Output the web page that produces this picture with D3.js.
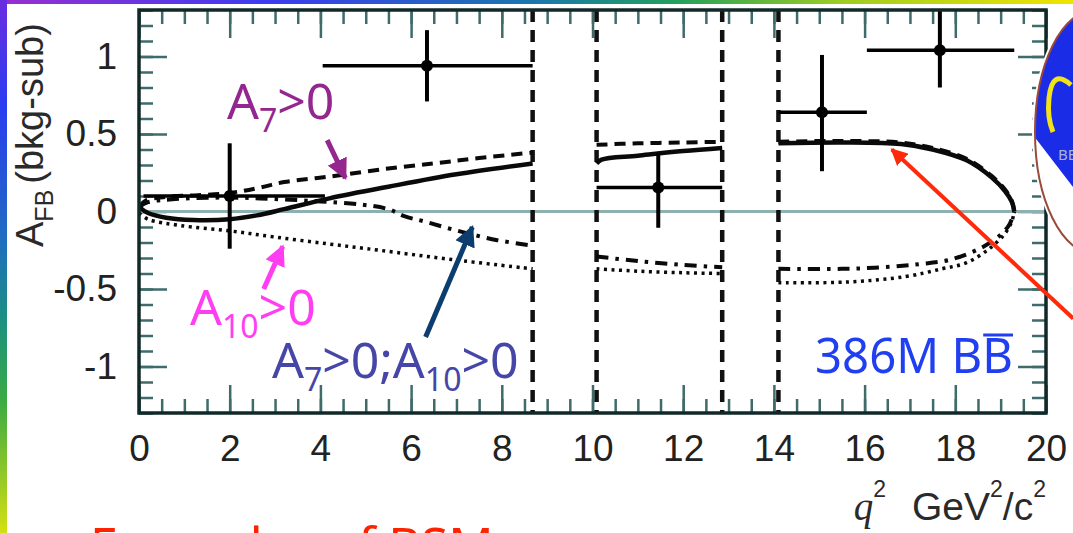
<!DOCTYPE html>
<html><head><meta charset="utf-8">
<script src="https://cdn.jsdelivr.net/npm/d3@7"></script>
<style>
html,body{margin:0;padding:0;background:#fff;overflow:hidden}
svg{display:block}
</style></head><body>
<svg id="chart" width="1073" height="533"></svg>
<script>
// ---- axis ticks ----
const xMajorTicks = [0, 2, 4, 6, 8, 10, 12, 14, 16, 18, 20];
const yMajorTicks = [-1, -0.5, 0, 0.5, 1];
const xMinorTicks = d3.range(0, 41).map(i => i / 2);
const yMinorTicks = d3.range(-13, 14).map(i => i / 10);

// ---- measured A_FB (background subtracted) per q² bin ----
const binLow  = [0.1, 4.05, 10.09, 14.1, 16.05];
const binHigh = [4.1, 8.68, 12.86, 16.05, 19.3];
const binQ2   = [2.0, 6.35, 11.45, 15.06, 17.66];
const binAfb  = [0.10, 0.94, 0.155, 0.64, 1.04];
const errUp   = [0.34, 0.23, 0.225, 0.37, 0.30];
const errDown = [0.34, 0.23, 0.26, 0.38, 0.24];

// ---- charmonium veto window edges ----
const vetoEdges = [8.68, 10.09, 12.86, 14.1];

// ---- predictions [q², A_FB], one array per allowed window ----
const smCurve = [
  [[0,0.03],[0.2,-0.01],[0.6,-0.04],[1.2,-0.055],[2,-0.05],[2.6,-0.025],[3.2,0.015],[4.2,0.085],[5.5,0.16],[7,0.24],[8.68,0.31]],
  [[10.09,0.31],[10.2,0.335],[11,0.36],[12,0.39],[12.86,0.41]],
  [[14.1,0.44],[15.5,0.445],[16.8,0.435],[17.5,0.40],[18.25,0.33],[18.8,0.22],[19.1,0.13],[19.25,0.06],[19.3,0]]
];
const a7Curve = [
  [[0,0.03],[0.15,0.07],[0.6,0.095],[1.3,0.105],[2,0.12],[2.6,0.15],[3.2,0.19],[4.2,0.225],[5.3,0.27],[6.5,0.31],[7.5,0.345],[8.68,0.38]],
  [[10.09,0.43],[11,0.44],[12,0.445],[12.86,0.45]],
  [[14.1,0.45],[15.5,0.455],[16.8,0.445],[17.5,0.41],[18.25,0.34],[18.8,0.23],[19.1,0.14],[19.25,0.065],[19.3,0]]
];
const a10Curve = [
  [[0,-0.01],[0.2,-0.05],[0.9,-0.09],[2,-0.125],[3,-0.165],[4.2,-0.21],[5.3,-0.25],[6.9,-0.31],[8.68,-0.37]],
  [[10.09,-0.37],[11,-0.385],[12,-0.395],[12.86,-0.40]],
  [[14.1,-0.46],[15.6,-0.455],[16.9,-0.42],[17.7,-0.37],[18.25,-0.33],[18.75,-0.24],[19.1,-0.14],[19.25,-0.06],[19.3,0]]
];
const a7a10Curve = [
  [[0,0.03],[0.2,0.06],[0.8,0.08],[2,0.09],[3,0.08],[4,0.065],[4.9,0.045],[5.5,0.015],[5.85,-0.03],[6.3,-0.065],[7.1,-0.13],[7.9,-0.185],[8.68,-0.22]],
  [[10.09,-0.29],[11,-0.32],[12,-0.345],[12.86,-0.36]],
  [[14.1,-0.37],[15.5,-0.37],[16.4,-0.36],[17.2,-0.34],[17.9,-0.31],[18.6,-0.23],[19.0,-0.15],[19.2,-0.08],[19.3,0]]
];

const svg = d3.select("#chart");
const W = 1073, H = 533;
const plot = {left: 139, right: 1046, top: 10, bottom: 413};

const x = d3.scaleLinear().domain([0, 20]).range([plot.left, plot.right]);
const y = d3.scaleLinear().domain([-1.3, 1.3]).range([plot.bottom, plot.top]);

const defs = svg.append("defs");
defs.append("clipPath").attr("id", "plotClip")
  .append("rect").attr("x", plot.left).attr("y", plot.top)
  .attr("width", plot.right - plot.left).attr("height", plot.bottom - plot.top);

// slide frame gradients
const gTop = defs.append("linearGradient").attr("id", "topGrad").attr("x1", "0").attr("x2", "1").attr("y1", "0").attr("y2", "0");
[[0,"#9a2ed0"],[0.25,"#3c3cf0"],[0.5,"#1a78ac"],[0.63,"#22a05c"],[0.78,"#9ccc22"],[1,"#f0e400"]]
  .forEach(([o,c]) => gTop.append("stop").attr("offset", o).attr("stop-color", c));
const gLeft = defs.append("linearGradient").attr("id", "leftGrad").attr("x1", "0").attr("x2", "0").attr("y1", "0").attr("y2", "1");
[[0,"#6a2ee0"],[0.2,"#2a3cf0"],[0.45,"#1f6ec0"],[0.6,"#1a9080"],[0.75,"#3aaa44"],[1,"#d4e010"]]
  .forEach(([o,c]) => gLeft.append("stop").attr("offset", o).attr("stop-color", c));

svg.append("rect").attr("width", W).attr("height", H).attr("fill", "#fff");

// ---- axes and ticks (all inward) ----
const tickColor = "#3f6b6b";
function styleAxis(g) {
  g.select(".domain").remove();
  g.selectAll(".tick line").attr("stroke", tickColor).attr("stroke-width", 2.5);
  g.selectAll(".tick text").attr("fill", "#222")
    .style("font-family", "'Liberation Sans', Arial, sans-serif").style("font-size", "37px");
}
const fmt = d => String(d);

svg.append("g").attr("transform", `translate(0,${plot.bottom})`)
  .call(d3.axisBottom(x).tickValues(xMinorTicks).tickSize(-14).tickFormat("")).call(styleAxis);
svg.append("g").attr("transform", `translate(0,${plot.bottom})`)
  .call(d3.axisBottom(x).tickValues(xMajorTicks).tickSize(-28).tickPadding(22).tickFormat(fmt)).call(styleAxis);
svg.append("g").attr("transform", `translate(0,${plot.top})`)
  .call(d3.axisTop(x).tickValues(xMinorTicks).tickSize(-14).tickFormat("")).call(styleAxis);
svg.append("g").attr("transform", `translate(0,${plot.top})`)
  .call(d3.axisTop(x).tickValues(xMajorTicks).tickSize(-28).tickFormat("")).call(styleAxis);
svg.append("g").attr("transform", `translate(${plot.left},0)`)
  .call(d3.axisLeft(y).tickValues(yMinorTicks).tickSize(-14).tickFormat("")).call(styleAxis);
svg.append("g").attr("transform", `translate(${plot.left},0)`)
  .call(d3.axisLeft(y).tickValues(yMajorTicks).tickSize(-28).tickPadding(22).tickFormat(fmt)).call(styleAxis);
svg.append("g").attr("transform", `translate(${plot.right},0)`)
  .call(d3.axisRight(y).tickValues(yMinorTicks).tickSize(-14).tickFormat("")).call(styleAxis);
svg.append("g").attr("transform", `translate(${plot.right},0)`)
  .call(d3.axisRight(y).tickValues(yMajorTicks).tickSize(-28).tickFormat("")).call(styleAxis);

// zero line
svg.append("line")
  .attr("x1", x(0)).attr("x2", x(20)).attr("y1", y(0)).attr("y2", y(0))
  .attr("stroke", "#8fb0b0").attr("stroke-width", 3);

const dataLayer = svg.append("g").attr("clip-path", "url(#plotClip)");

// veto boundaries
dataLayer.selectAll("line.veto").data(vetoEdges).join("line").attr("class", "veto")
  .attr("x1", d => x(d)).attr("x2", d => x(d))
  .attr("y1", plot.top).attr("y2", plot.bottom)
  .attr("stroke", "#111").attr("stroke-width", 4.5).attr("stroke-dasharray", "12,8");

// prediction curves
const line = d3.line().x(d => x(d[0])).y(d => y(d[1])).curve(d3.curveCatmullRom.alpha(0.5));
const models = [
  {cls: "a10",   curve: a10Curve,   width: 3.5, dash: "3,4.5"},
  {cls: "a7a10", curve: a7a10Curve, width: 4,   dash: "12,7,3.5,7"},
  {cls: "a7",    curve: a7Curve,    width: 4,   dash: "11,7"},
  {cls: "sm",    curve: smCurve,    width: 4.5, dash: null}
];
models.forEach(m => {
  dataLayer.selectAll("path." + m.cls).data(m.curve).join("path").attr("class", m.cls)
    .attr("d", line).attr("fill", "none").attr("stroke", "#0a0a0a")
    .attr("stroke-width", m.width).attr("stroke-dasharray", m.dash);
});

// data points with error bars
const idx = d3.range(binQ2.length);
dataLayer.selectAll("line.xerr").data(idx).join("line").attr("class", "xerr")
  .attr("x1", i => x(binLow[i])).attr("x2", i => x(binHigh[i]))
  .attr("y1", i => y(binAfb[i])).attr("y2", i => y(binAfb[i]))
  .attr("stroke", "#000").attr("stroke-width", 3.5);
dataLayer.selectAll("line.yerr").data(idx).join("line").attr("class", "yerr")
  .attr("x1", i => x(binQ2[i])).attr("x2", i => x(binQ2[i]))
  .attr("y1", i => y(binAfb[i] + errUp[i])).attr("y2", i => y(binAfb[i] - errDown[i]))
  .attr("stroke", "#000").attr("stroke-width", 4);
dataLayer.selectAll("circle.pt").data(idx).join("circle").attr("class", "pt")
  .attr("cx", i => x(binQ2[i])).attr("cy", i => y(binAfb[i])).attr("r", 6).attr("fill", "#000");

// frame
svg.append("rect")
  .attr("x", plot.left).attr("y", plot.top)
  .attr("width", plot.right - plot.left).attr("height", plot.bottom - plot.top)
  .attr("fill", "none").attr("stroke", "#102828").attr("stroke-width", 3.5);

// axis titles
const yTitle = svg.append("text")
  .attr("transform", "translate(43,247) rotate(-90)")
  .attr("fill", "#2a2a2a")
  .style("font-family", "'Liberation Sans', Arial, sans-serif").style("font-size", "38px");
yTitle.append("tspan").text("A");
yTitle.append("tspan").attr("dy", 10).style("font-size", "25px").text("FB");
yTitle.append("tspan").attr("dy", -10).attr("dx", 6).text("(bkg-sub)");

const xTitle = svg.append("text")
  .attr("x", 1046).attr("y", 520).attr("text-anchor", "end")
  .attr("fill", "#2a2a2a")
  .style("font-family", "'Liberation Sans', Arial, sans-serif").style("font-size", "39px");
xTitle.append("tspan").style("font-family", "'Liberation Serif', serif").style("font-style", "italic").text("q");
xTitle.append("tspan").attr("dy", -23).style("font-size", "23px").text("2");
xTitle.append("tspan").attr("dy", 23).attr("dx", 26).text("GeV");
xTitle.append("tspan").attr("dy", -23).style("font-size", "23px").text("2");
xTitle.append("tspan").attr("dy", 23).text("/c");
xTitle.append("tspan").attr("dy", -23).style("font-size", "23px").text("2");

// ---- annotations ----
const annFont = "'Noto Sans', 'DejaVu Sans', sans-serif";
function arrow(id, color, tail, tip, width) {
  defs.append("marker").attr("id", id).attr("viewBox", "0 0 10 10")
    .attr("refX", 9).attr("refY", 5).attr("markerWidth", 4.2).attr("markerHeight", 4.2)
    .attr("markerUnits", "strokeWidth").attr("orient", "auto")
    .append("path").attr("d", "M0,0 L10,5 L0,10 Z").attr("fill", color);
  svg.append("line")
    .attr("x1", x(tail[0])).attr("y1", y(tail[1]))
    .attr("x2", x(tip[0])).attr("y2", y(tip[1]))
    .attr("stroke", color).attr("stroke-width", width)
    .attr("marker-end", `url(#${id})`);
}
function label(px, py, color, parts) {
  const t = svg.append("text").attr("x", px).attr("y", py).attr("fill", color)
    .style("font-family", annFont).style("font-size", "50px");
  parts.forEach(p => {
    const s = t.append("tspan").text(p.t);
    if (p.sub) s.attr("dy", 13).style("font-size", "32px");
    if (p.back) s.attr("dy", -13);
  });
  return t;
}

label(227, 119, "#93278f", [{t: "A"}, {t: "7", sub: true}, {t: ">0", back: true}]);
arrow("arrPurple", "#93278f", [4.15, 0.46], [4.55, 0.215], 5);

label(190, 325, "#ff3ef2", [{t: "A"}, {t: "10", sub: true}, {t: ">0", back: true}]);
arrow("arrMagenta", "#ff3ef2", [2.75, -0.50], [3.17, -0.225], 5);

label(272, 378, "#4646a8", [{t: "A"}, {t: "7", sub: true}, {t: ">0;A", back: true}, {t: "10", sub: true}, {t: ">0", back: true}]);
arrow("arrNavy", "#0b3d6e", [6.32, -0.81], [7.35, -0.10], 5);

const lumi = svg.append("text").attr("x", 815).attr("y", 373).attr("fill", "#1f3ff0")
  .attr("textLength", 198).attr("lengthAdjust", "spacingAndGlyphs")
  .style("font-family", annFont).style("font-size", "50px").text("386M BB");
const lastB = lumi.node().getExtentOfChar(6);
svg.append("line").attr("x1", lastB.x + 1).attr("x2", lastB.x + lastB.width)
  .attr("y1", 335).attr("y2", 335).attr("stroke", "#1f3ff0").attr("stroke-width", 3);

// red pointer to the SM curve at high q²
arrow("arrRed", "#ff2a0a", [20.6, -0.69], [16.6, 0.40], 4);

// experiment logo at the right edge
const logo = svg.append("g");
defs.append("clipPath").attr("id", "logoClip")
  .append("ellipse").attr("cx", 1095).attr("cy", 132).attr("rx", 60).attr("ry", 122);
logo.append("ellipse").attr("cx", 1095).attr("cy", 132).attr("rx", 63).attr("ry", 125)
  .attr("fill", "#fff");
const logoIn = logo.append("g").attr("clip-path", "url(#logoClip)");
logoIn.append("polygon").attr("points", "1030,0 1080,0 1080,196 1030,131").attr("fill", "#1a2ce6");
logoIn.append("path").attr("d", "M1071,85 Q1052,68 1049,98 Q1047,118 1053,132")
  .attr("fill", "none").attr("stroke", "#f2e21a").attr("stroke-width", 5);
logoIn.append("text").attr("x", 1058).attr("y", 160).attr("fill", "#aab4cc")
  .style("font-family", annFont).style("font-size", "15px").text("BELLE");
logo.append("ellipse").attr("cx", 1095).attr("cy", 132).attr("rx", 60).attr("ry", 122)
  .attr("fill", "none").attr("stroke", "#9a4a3a").attr("stroke-width", 2);

// bottom caption (mostly below the visible area)
svg.append("text").attr("x", 90).attr("y", 563).attr("fill", "#ff2200")
  .style("font-family", annFont).style("font-size", "50px").text("Examples of BSM");

// slide frame stripes
svg.append("rect").attr("x", 0).attr("y", 0).attr("width", W).attr("height", 4).attr("fill", "url(#topGrad)");
svg.append("rect").attr("x", 0).attr("y", 0).attr("width", 7).attr("height", H).attr("fill", "url(#leftGrad)");
</script>
</body></html>
